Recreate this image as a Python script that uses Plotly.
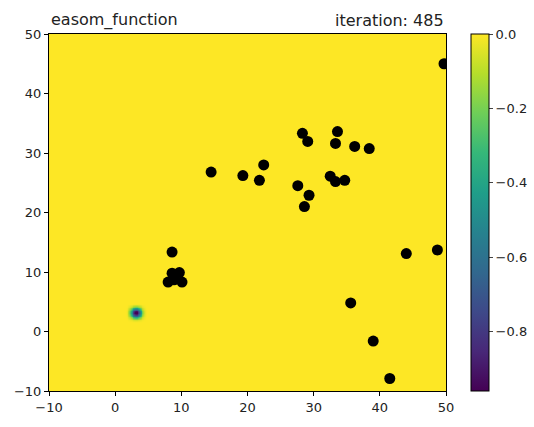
import numpy as np
import plotly.graph_objects as go

# Particle positions
px = [49.7, 14.5, 19.3, 21.8, 22.45, 28.3, 29.1, 33.6, 33.3, 36.2, 38.4,
      27.6, 29.3, 28.6, 32.5, 33.3, 34.7, 44.0, 48.7, 35.6, 39.0, 41.5,
      8.6, 8.6, 9.7, 8.0, 8.9, 10.1]
py = [45.0, 26.8, 26.2, 25.4, 28.0, 33.3, 31.95, 33.6, 31.6, 31.1, 30.75,
      24.5, 22.9, 21.0, 26.1, 25.2, 25.4, 13.1, 13.7, 4.8, -1.6, -7.9,
      13.35, 9.8, 9.9, 8.3, 8.7, 8.3]

title_left = "easom_function"
title_right = "iteration: 485"
axis_ticks = [-10, 0, 10, 20, 30, 40, 50]
cbar_ticks = [0.0, -0.2, -0.4, -0.6, -0.8]

# Easom function surface
gx = np.linspace(-10, 50, 481)
gy = np.linspace(-10, 50, 481)
X, Y = np.meshgrid(gx, gy)
Z = -np.cos(X) * np.cos(Y) * np.exp(-((X - np.pi) ** 2 + (Y - np.pi) ** 2))

fig = go.Figure()
fig.add_trace(go.Heatmap(
    x=gx, y=gy, z=Z, colorscale="Viridis", zmin=-0.96, zmax=0.0,
    zsmooth="best",
    colorbar=dict(
        thickness=18, len=1.0, lenmode="fraction", y=0.5, yanchor="middle",
        xref="container", x=471 / 534, xpad=0, ypad=0, xanchor="left",
        tickvals=cbar_ticks, tickformat=".1f", ticks="outside", ticklen=4,
        outlinewidth=1, outlinecolor="black",
        tickfont=dict(family="DejaVu Sans", size=13, color="#222"),
    ),
))
fig.add_trace(go.Scatter(
    x=px, y=py, mode="markers",
    marker=dict(color="black", size=11, line=dict(width=0)),
    showlegend=False,
))

axis_common = dict(
    tickvals=axis_ticks, ticks="outside", ticklen=4, tickcolor="black",
    showline=True, linecolor="black", linewidth=1, mirror=True,
    showgrid=False, zeroline=False,
    tickfont=dict(family="DejaVu Sans", size=13, color="#222"),
)
fig.update_xaxes(range=[-10, 50], **axis_common)
fig.update_yaxes(range=[-10, 50], **axis_common)

fig.update_layout(
    width=534, height=427,
    margin=dict(l=49, r=88, t=34, b=24),
    plot_bgcolor="white", paper_bgcolor="white",
    showlegend=False,
    annotations=[
        dict(text=title_left, xref="paper", yref="paper", x=0, y=1,
             xanchor="left", yanchor="bottom", showarrow=False, yshift=2,
             font=dict(family="DejaVu Sans", size=16, color="#222")),
        dict(text=title_right, xref="paper", yref="paper", x=1, y=1,
             xanchor="right", yanchor="bottom", showarrow=False, yshift=2,
             font=dict(family="DejaVu Sans", size=16, color="#222")),
    ],
)

fig.write_html("out.html")
